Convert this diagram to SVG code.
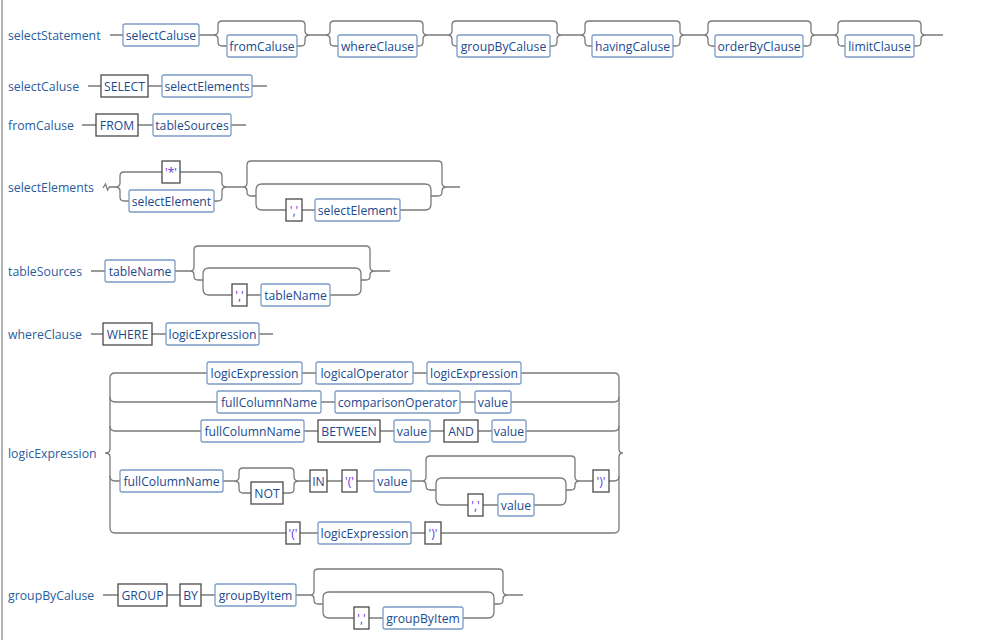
<svg xmlns="http://www.w3.org/2000/svg" width="1003" height="640" viewBox="0 0 1003 640">
<style>
.ln{fill:none;stroke:#7a7a7a;stroke-width:1.3}
.nt{fill:#fff;stroke:#7c9cc6;stroke-width:1.3}
.t{fill:#fff;stroke:#4a4a4a;stroke-width:1.3}
text{font-family:"Open Sans","Liberation Sans",Arial,sans-serif;font-size:12.2px}
.tx{fill:#1b4a8f;text-anchor:middle}
.q{fill:#6a35e8;text-anchor:middle}
.lb{fill:#2a5d9c;font-size:12.3px}
</style>
<rect x="1" y="0" width="2" height="640" fill="#b4b4b4"/>
<g id="labels">
<text class="lb" x="8" y="39.5">selectStatement</text>
<text class="lb" x="8" y="90.5">selectCaluse</text>
<text class="lb" x="8" y="129.5">fromCaluse</text>
<text class="lb" x="8" y="191.5">selectElements</text>
<text class="lb" x="8" y="275.5">tableSources</text>
<text class="lb" x="8" y="338.5">whereClause</text>
<text class="lb" x="8" y="457.5">logicExpression</text>
<text class="lb" x="8" y="599.5">groupByCaluse</text>
</g>
<g id="connectors" class="ln">
<path d="M110,35H123M199,35H213M310,35H325M428,35H447M562,35H580M685,35H703M816,35H833M926,35H943"/>
<path d="M227,46H222Q218,46 218,42V39Q218,35 213,35Q218,35 218,31V25Q218,21 222,21H301Q305,21 305,25V31Q305,35 310,35Q305,35 305,39V42Q305,46 301,46H297"/>
<path d="M338,46H334Q330,46 330,42V39Q330,35 325,35Q330,35 330,31V25Q330,21 334,21H419Q423,21 423,25V31Q423,35 428,35Q423,35 423,39V42Q423,46 419,46H417"/>
<path d="M457,46H456Q452,46 452,42V39Q452,35 447,35Q452,35 452,31V25Q452,21 456,21H553Q557,21 557,25V31Q557,35 562,35Q557,35 557,39V42Q557,46 553,46H550"/>
<path d="M592,46H589Q585,46 585,42V39Q585,35 580,35Q585,35 585,31V25Q585,21 589,21H676Q680,21 680,25V31Q680,35 685,35Q680,35 680,39V42Q680,46 676,46H673"/>
<path d="M715,46H712Q708,46 708,42V39Q708,35 703,35Q708,35 708,31V25Q708,21 712,21H807Q811,21 811,25V31Q811,35 816,35Q811,35 811,39V42Q811,46 807,46H803"/>
<path d="M845,46H842Q838,46 838,42V39Q838,35 833,35Q838,35 838,31V25Q838,21 842,21H917Q921,21 921,25V31Q921,35 926,35Q921,35 921,39V42Q921,46 917,46H914"/>
<path d="M88,86H101M148,86H162M252,86H267"/>
<path d="M82,125H96M138,125H153M231,125H246"/>
<path d="M103,188L105.5,184L107.5,190L109.5,187H115"/>
<path d="M162,172H124Q120,172 120,176V183Q120,187 115,187Q120,187 120,191V197Q120,201 124,201H129"/>
<path d="M214,201H218Q222,201 222,197V191Q222,187 227,187Q222,187 222,183V176Q222,172 218,172H180"/>
<path d="M227,187H243M447,187H460M302,210H315"/>
<path d="M256,196H251Q247,196 247,192V191Q247,187 243,187Q247,187 247,183V165Q247,161 251,161H438Q442,161 442,165V183Q442,187 447,187Q442,187 442,191V192Q442,196 438,196H431"/>
<path d="M286,210H262Q256,210 256,204V190Q256,184 262,184H425Q431,184 431,190V204Q431,210 425,210H400"/>
<path d="M91,271H105M175,271H190M375,271H390M247,295H261"/>
<path d="M203,280H198Q194,280 194,276V275Q194,271 190,271Q194,271 194,267V250Q194,246 198,246H366Q370,246 370,250V267Q370,271 375,271Q370,271 370,275V276Q370,280 366,280H361"/>
<path d="M232,295H209Q203,295 203,289V274Q203,268 209,268H355Q361,268 361,274V289Q361,295 355,295H330"/>
<path d="M91,334H103M152,334H166M259,334H273"/>
<path d="M115,373Q110,373 110,378V449Q110,453 105,453Q110,453 110,457V528Q110,533 115,533"/>
<path d="M614,373Q619,373 619,378V449Q619,453 623,453Q619,453 619,457V528Q619,533 614,533"/>
<path d="M115,373H207M302,373H316M413,373H427M521,373H614"/>
<path d="M110,397Q110,402 115,402H217M321,402H335M460,402H475M511,402H614Q619,402 619,397"/>
<path d="M110,426Q110,431 115,431H201M304,431H318M380,431H394M430,431H444M478,431H492M526,431H614Q619,431 619,426"/>
<path d="M110,476Q110,481 115,481H120M223,481H234M299,481H310M327,481H342M357,481H374M411,481H422M580,481H593M609,481H614Q619,481 619,476"/>
<path d="M251,493H243Q239,493 239,489V485Q239,481 234,481Q239,481 239,477V472Q239,468 243,468H290Q294,468 294,472V477Q294,481 299,481Q294,481 294,485V489Q294,493 290,493H283"/>
<path d="M436,490H430Q426,490 426,486V485Q426,481 422,481Q426,481 426,477V460Q426,456 430,456H571Q575,456 575,460V477Q575,481 580,481Q575,481 575,485V486Q575,490 571,490H566"/>
<path d="M468,505H442Q436,505 436,499V484Q436,478 442,478H560Q566,478 566,484V499Q566,505 560,505H534M483,505H498"/>
<path d="M115,533H286M300,533H318M411,533H425M441,533H614"/>
<path d="M103,595H118M167,595H180M201,595H215M296,595H310M508,595H523M369,618H383"/>
<path d="M323,604H318Q314,604 314,600V599Q314,595 310,595Q314,595 314,591V573Q314,569 318,569H499Q503,569 503,573V591Q503,595 508,595Q503,595 503,599V600Q503,604 499,604H494"/>
<path d="M354,618H329Q323,618 323,612V598Q323,592 329,592H488Q494,592 494,598V612Q494,618 488,618H463"/>
</g>
<g id="ss-selectCaluse"><rect class="nt" x="123" y="24" width="76" height="22" rx="2"/><text class="tx" x="161" y="39.5">selectCaluse</text></g>
<g id="ss-fromCaluse"><rect class="nt" x="227" y="35" width="70" height="22" rx="2"/><text class="tx" x="262" y="50.5">fromCaluse</text></g>
<g id="ss-whereClause"><rect class="nt" x="338" y="35" width="79" height="22" rx="2"/><text class="tx" x="377.5" y="50.5">whereClause</text></g>
<g id="ss-groupByCaluse"><rect class="nt" x="457" y="35" width="93" height="22" rx="2"/><text class="tx" x="503.5" y="50.5">groupByCaluse</text></g>
<g id="ss-havingCaluse"><rect class="nt" x="592" y="35" width="81" height="22" rx="2"/><text class="tx" x="632.5" y="50.5">havingCaluse</text></g>
<g id="ss-orderByClause"><rect class="nt" x="715" y="35" width="88" height="22" rx="2"/><text class="tx" x="759" y="50.5">orderByClause</text></g>
<g id="ss-limitClause"><rect class="nt" x="845" y="35" width="69" height="22" rx="2"/><text class="tx" x="879.5" y="50.5">limitClause</text></g>
<g id="sc-SELECT"><rect class="t" x="101" y="75" width="47" height="22"/><text class="tx" x="124.5" y="90.5">SELECT</text></g>
<g id="sc-selectElements"><rect class="nt" x="162" y="75" width="90" height="22" rx="2"/><text class="tx" x="207" y="90.5">selectElements</text></g>
<g id="fc-FROM"><rect class="t" x="96" y="114" width="42" height="22"/><text class="tx" x="117" y="129.5">FROM</text></g>
<g id="fc-tableSources"><rect class="nt" x="153" y="114" width="78" height="22" rx="2"/><text class="tx" x="192" y="129.5">tableSources</text></g>
<g id="se-star"><rect class="t" x="162" y="161" width="18" height="22"/><text class="q" x="171" y="176.5">'*'</text></g>
<g id="se-selectElement1"><rect class="nt" x="129" y="190" width="85" height="22" rx="2"/><text class="tx" x="171.5" y="205.5">selectElement</text></g>
<g id="se-comma"><rect class="t" x="286" y="199" width="16" height="22"/><text class="q" x="294" y="214.5">','</text></g>
<g id="se-selectElement2"><rect class="nt" x="315" y="199" width="85" height="22" rx="2"/><text class="tx" x="357.5" y="214.5">selectElement</text></g>
<g id="ts-tableName1"><rect class="nt" x="105" y="260" width="70" height="22" rx="2"/><text class="tx" x="140" y="275.5">tableName</text></g>
<g id="ts-comma"><rect class="t" x="232" y="284" width="15" height="22"/><text class="q" x="239.5" y="299.5">','</text></g>
<g id="ts-tableName2"><rect class="nt" x="261" y="284" width="69" height="22" rx="2"/><text class="tx" x="295.5" y="299.5">tableName</text></g>
<g id="wc-WHERE"><rect class="t" x="103" y="323" width="49" height="22"/><text class="tx" x="127.5" y="338.5">WHERE</text></g>
<g id="wc-logicExpression"><rect class="nt" x="166" y="323" width="93" height="22" rx="2"/><text class="tx" x="212.5" y="338.5">logicExpression</text></g>
<g id="le-r1-logicExpression1"><rect class="nt" x="207" y="362" width="95" height="22" rx="2"/><text class="tx" x="254.5" y="377.5">logicExpression</text></g>
<g id="le-r1-logicalOperator"><rect class="nt" x="316" y="362" width="97" height="22" rx="2"/><text class="tx" x="364.5" y="377.5">logicalOperator</text></g>
<g id="le-r1-logicExpression2"><rect class="nt" x="427" y="362" width="94" height="22" rx="2"/><text class="tx" x="474" y="377.5">logicExpression</text></g>
<g id="le-r2-fullColumnName"><rect class="nt" x="217" y="391" width="104" height="22" rx="2"/><text class="tx" x="269" y="406.5">fullColumnName</text></g>
<g id="le-r2-comparisonOperator"><rect class="nt" x="335" y="391" width="125" height="22" rx="2"/><text class="tx" x="397.5" y="406.5">comparisonOperator</text></g>
<g id="le-r2-value"><rect class="nt" x="475" y="391" width="36" height="22" rx="2"/><text class="tx" x="493" y="406.5">value</text></g>
<g id="le-r3-fullColumnName"><rect class="nt" x="201" y="420" width="103" height="22" rx="2"/><text class="tx" x="252.5" y="435.5">fullColumnName</text></g>
<g id="le-r3-BETWEEN"><rect class="t" x="318" y="420" width="62" height="22"/><text class="tx" x="349" y="435.5">BETWEEN</text></g>
<g id="le-r3-value1"><rect class="nt" x="394" y="420" width="36" height="22" rx="2"/><text class="tx" x="412" y="435.5">value</text></g>
<g id="le-r3-AND"><rect class="t" x="444" y="420" width="34" height="22"/><text class="tx" x="461" y="435.5">AND</text></g>
<g id="le-r3-value2"><rect class="nt" x="492" y="420" width="34" height="22" rx="2"/><text class="tx" x="509" y="435.5">value</text></g>
<g id="le-r4-fullColumnName"><rect class="nt" x="120" y="470" width="103" height="22" rx="2"/><text class="tx" x="171.5" y="485.5">fullColumnName</text></g>
<g id="le-r4-NOT"><rect class="t" x="251" y="482" width="32" height="22"/><text class="tx" x="267" y="497.5">NOT</text></g>
<g id="le-r4-IN"><rect class="t" x="310" y="470" width="17" height="22"/><text class="tx" x="318.5" y="485.5">IN</text></g>
<g id="le-r4-lparen"><rect class="t" x="342" y="470" width="15" height="22"/><text class="q" x="349.5" y="485.5">'('</text></g>
<g id="le-r4-value1"><rect class="nt" x="374" y="470" width="37" height="22" rx="2"/><text class="tx" x="392.5" y="485.5">value</text></g>
<g id="le-r4-comma"><rect class="t" x="468" y="494" width="15" height="22"/><text class="q" x="475.5" y="509.5">','</text></g>
<g id="le-r4-value2"><rect class="nt" x="498" y="494" width="36" height="22" rx="2"/><text class="tx" x="516" y="509.5">value</text></g>
<g id="le-r4-rparen"><rect class="t" x="593" y="470" width="16" height="22"/><text class="q" x="601" y="485.5">')'</text></g>
<g id="le-r5-lparen"><rect class="t" x="286" y="522" width="14" height="22"/><text class="q" x="293" y="537.5">'('</text></g>
<g id="le-r5-logicExpression"><rect class="nt" x="318" y="522" width="93" height="22" rx="2"/><text class="tx" x="364.5" y="537.5">logicExpression</text></g>
<g id="le-r5-rparen"><rect class="t" x="425" y="522" width="16" height="22"/><text class="q" x="433" y="537.5">')'</text></g>
<g id="gb-GROUP"><rect class="t" x="118" y="584" width="49" height="22"/><text class="tx" x="142.5" y="599.5">GROUP</text></g>
<g id="gb-BY"><rect class="t" x="180" y="584" width="21" height="22"/><text class="tx" x="190.5" y="599.5">BY</text></g>
<g id="gb-groupByItem1"><rect class="nt" x="215" y="584" width="81" height="22" rx="2"/><text class="tx" x="255.5" y="599.5">groupByItem</text></g>
<g id="gb-comma"><rect class="t" x="354" y="607" width="15" height="22"/><text class="q" x="361.5" y="622.5">','</text></g>
<g id="gb-groupByItem2"><rect class="nt" x="383" y="607" width="80" height="22" rx="2"/><text class="tx" x="423" y="622.5">groupByItem</text></g>
</svg>
